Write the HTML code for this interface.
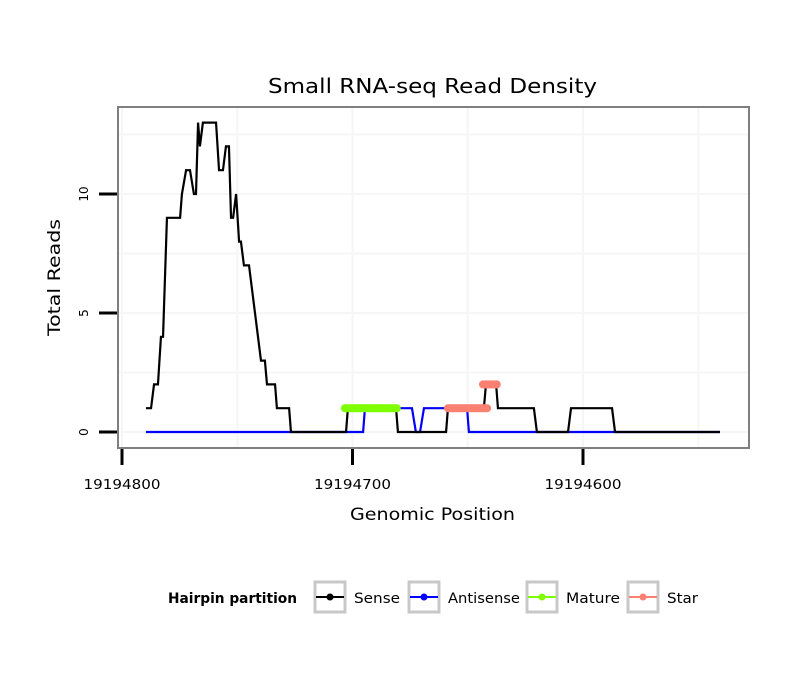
<!DOCTYPE html>
<html><head><meta charset="utf-8"><style>
body{margin:0;background:#fff;font-family:"DejaVu Sans","Liberation Sans",sans-serif}
</style></head><body>
<svg width="810" height="690" xmlns="http://www.w3.org/2000/svg" font-family="DejaVu Sans, Liberation Sans, sans-serif">
<text x="268" y="93" font-size="20" textLength="329" lengthAdjust="spacingAndGlyphs">Small RNA-seq Read Density</text>
<g id="grid"></g>
<g id="series"></g>
<rect x="118" y="107" width="631" height="341" fill="none" stroke="#7f7f7f" stroke-width="2"/>
<g id="axes"></g>
<text x="350" y="520" font-size="17" textLength="165" lengthAdjust="spacingAndGlyphs">Genomic Position</text>
<text transform="translate(60,336) rotate(-90)" font-size="17" textLength="117" lengthAdjust="spacingAndGlyphs">Total Reads</text>
<g>
<text x="168" y="603" font-size="14" font-weight="bold" textLength="129" lengthAdjust="spacingAndGlyphs">Hairpin partition</text>
<g><rect x="315" y="582" width="30" height="30" fill="#fff" stroke="#c8c8c8" stroke-width="3"/><line x1="316" y1="597" x2="344" y2="597" stroke="#000" stroke-width="2"/><circle cx="330" cy="597" r="3.5" fill="#000"/><text x="354" y="603" font-size="14" textLength="46" lengthAdjust="spacingAndGlyphs">Sense</text></g>
<g><rect x="409" y="582" width="30" height="30" fill="#fff" stroke="#c8c8c8" stroke-width="3"/><line x1="410" y1="597" x2="438" y2="597" stroke="#0000ff" stroke-width="2"/><circle cx="424" cy="597" r="3.5" fill="#0000ff"/><text x="448" y="603" font-size="14" textLength="72" lengthAdjust="spacingAndGlyphs">Antisense</text></g>
<g><rect x="527" y="582" width="30" height="30" fill="#fff" stroke="#c8c8c8" stroke-width="3"/><line x1="528" y1="597" x2="556" y2="597" stroke="#7fff00" stroke-width="2"/><circle cx="542" cy="597" r="3.5" fill="#7fff00"/><text x="566" y="603" font-size="14" textLength="54" lengthAdjust="spacingAndGlyphs">Mature</text></g>
<g><rect x="628" y="582" width="30" height="30" fill="#fff" stroke="#c8c8c8" stroke-width="3"/><line x1="629" y1="597" x2="657" y2="597" stroke="#fa8072" stroke-width="2"/><circle cx="643" cy="597" r="3.5" fill="#fa8072"/><text x="667" y="603" font-size="14" textLength="31" lengthAdjust="spacingAndGlyphs">Star</text></g>
</g>
</svg>
<script>
const xTicks=[19194800,19194700,19194600];
const xMinor=[19194750,19194650,19194550];
const yTicks=[0,5,10];
const yMinor=[2.5,7.5,12.5];
const base=19194800;
const senseOff=[10.4,12.6,13.9,15.6,16.9,17.8,19.5,25.2,26,27.8,29.5,31.2,32.1,33,33.8,35.1,40.8,42.1,43.8,45.1,46.4,47.3,48.2,49.5,50.8,51.6,52.9,55.1,57.7,60.3,62,62.9,66.4,67.2,72.5,73.3,97.2,98,118.9,119.7,140.6,141.4,157,157.9,162.3,163.1,178.7,180,193.5,194.8,212.6,213.9,259.4];
const senseVal=[1,1,2,2,4,4,9,9,10,11,11,10,10,13,12,13,13,11,11,12,12,9,9,10,8,8,7,7,5,3,3,2,2,1,1,0,0,1,1,0,0,1,1,2,2,1,1,0,0,1,1,0,0];
const antiOff=[10.4,104.6,105.4,125.8,127.5,129.3,131,149.7,150.5,259.4];
const antiVal=[0,0,1,1,0,0,1,1,0,0];
const matureRange=[[96.7,119.3,1]];
const starRange=[[141.4,158.4,1],[156.6,162.7,2]];
const NS="http://www.w3.org/2000/svg";
function X(pos){return 122+(base-pos)*2.305;}
function Y(v){return 432-v*23.8;}
function mk(tag,attrs,parent){const e=document.createElementNS(NS,tag);for(const k in attrs)e.setAttribute(k,attrs[k]);parent.appendChild(e);return e;}
const grid=document.getElementById('grid'),ser=document.getElementById('series'),axes=document.getElementById('axes');
yMinor.concat(yTicks).forEach(v=>{const l=mk('line',{x1:119,x2:748,y1:Y(v),y2:Y(v),stroke:'#f6f6f6','stroke-width':2},grid);

});
xMinor.concat(xTicks).forEach(p=>{const x=X(p);if(x<119||x>748)return;const l=mk('line',{x1:x,x2:x,y1:108,y2:447,stroke:'#f6f6f6','stroke-width':2},grid);

});
function line(off,val,color,name){const pts=off.map((o,i)=>X(base-o)+','+Y(val[i])).join(' ');const p=mk('polyline',{points:pts,fill:'none',stroke:color,'stroke-width':2.2},ser);

}
line(antiOff,antiVal,'#0000ff','antisense-line');
line(senseOff,senseVal,'#000','sense-line');
function dots(ranges,color,name){ranges.forEach(r=>{const g=mk('g',{fill:color},ser);


for(let o=r[0];o<=r[1]+0.01;o+=0.5){mk('circle',{cx:X(base-o),cy:Y(r[2]),r:4},g);}});}
dots(matureRange,'#7fff00','mature-points');
dots(starRange,'#fa8072','star-points');
yTicks.forEach(v=>{const t=mk('line',{x1:99,x2:117,y1:Y(v),y2:Y(v),stroke:'#000','stroke-width':3},axes);


const tx=mk('text',{transform:`translate(88,${Y(v)}) rotate(-90)`,'text-anchor':'middle','font-size':12},axes);tx.textContent=v;

});
xTicks.forEach(p=>{const x=X(p);const t=mk('line',{x1:x,x2:x,y1:449,y2:465,stroke:'#000','stroke-width':3},axes);


const tx=mk('text',{x:x,y:489,'text-anchor':'middle','font-size':13,textLength:77,lengthAdjust:'spacingAndGlyphs'},axes);tx.textContent=p;

});
</script>
</body></html>
